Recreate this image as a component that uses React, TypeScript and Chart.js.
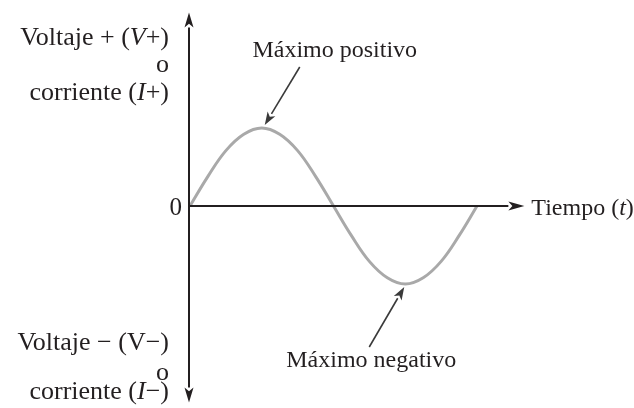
import React, { useEffect, useRef } from "react";
import { Chart, registerables } from "chart.js";

Chart.register(...registerables);

// One period of the alternating signal, time in periods, amplitude normalised to the peak
const timeValues = [0, 0.0625, 0.125, 0.1875, 0.25, 0.3125, 0.375, 0.4375, 0.5, 0.5625, 0.625, 0.6875, 0.75, 0.8125, 0.875, 0.9375, 1];
const signalValues = [0, 0.38, 0.71, 0.92, 1, 0.92, 0.71, 0.38, 0, -0.38, -0.71, -0.92, -1, -0.92, -0.71, -0.38, 0];

// Text drawn around the axes
const upperAxisLabel = [
  [["Voltaje + (", false], ["V", true], ["+)", false]],
  [["o", false]],
  [["corriente (", false], ["I", true], ["+)", false]],
] as [string, boolean][][];
const lowerAxisLabel = [
  [["Voltaje \u2212 (V\u2212)", false]],
  [["o", false]],
  [["corriente (", false], ["I", true], ["\u2212)", false]],
] as [string, boolean][][];
const timeLabel = [["Tiempo (", false], ["t", true], [")", false]] as [string, boolean][];
const zeroLabel = "0";
const peakLabel = "Máximo positivo";
const troughLabel = "Máximo negativo";

const FONT_FAMILY = '"Liberation Serif", "Times New Roman", serif';
const TEXT_COLOR = "#231f20";

function fontFor(italic: boolean, size: number) {
  return `${italic ? "italic " : ""}${size}px ${FONT_FAMILY}`;
}

function drawRuns(ctx: CanvasRenderingContext2D, runs: [string, boolean][], x: number, y: number, align: "left" | "right" | "center", size = 24) {
  const widths = runs.map(([t, it]) => {
    ctx.font = fontFor(it, size);
    return ctx.measureText(t).width;
  });
  const total = widths.reduce((a, b) => a + b, 0);
  let cx = align === "left" ? x : align === "right" ? x - total : x - total / 2;
  ctx.textAlign = "left";
  ctx.textBaseline = "alphabetic";
  ctx.fillStyle = TEXT_COLOR;
  runs.forEach(([t, it], i) => {
    ctx.font = fontFor(it, size);
    ctx.fillText(t, cx, y);
    cx += widths[i];
  });
}

function arrow(ctx: CanvasRenderingContext2D, x1: number, y1: number, x2: number, y2: number, color: string, width: number, headLen: number, headHalf: number) {
  const ang = Math.atan2(y2 - y1, x2 - x1);
  const bx = x2 - headLen * Math.cos(ang);
  const by = y2 - headLen * Math.sin(ang);
  ctx.strokeStyle = color;
  ctx.lineWidth = width;
  ctx.beginPath();
  ctx.moveTo(x1, y1);
  ctx.lineTo(bx, by);
  ctx.stroke();
  ctx.fillStyle = color;
  ctx.beginPath();
  ctx.moveTo(x2, y2);
  ctx.lineTo(bx + headHalf * Math.sin(ang), by - headHalf * Math.cos(ang));
  ctx.lineTo(x2 - headLen * 0.75 * Math.cos(ang), y2 - headLen * 0.75 * Math.sin(ang));
  ctx.lineTo(bx - headHalf * Math.sin(ang), by + headHalf * Math.cos(ang));
  ctx.closePath();
  ctx.fill();
}

// Draws the arrowed axes, their labels and the peak call-outs
const diagramPlugin = {
  id: "sineDiagram",
  afterDatasetsDraw(chart: any) {
    const ctx: CanvasRenderingContext2D = chart.ctx;
    const xs = chart.scales.x;
    const ys = chart.scales.y;
    const x0 = xs.getPixelForValue(0) - 1;
    const y0 = ys.getPixelForValue(0);
    const yTop = ys.getPixelForValue(2.48);
    const yBottom = ys.getPixelForValue(-2.52);
    const xEnd = xs.getPixelForValue(1.165);
    ctx.save();

    // vertical axis, arrows at both ends
    arrow(ctx, x0, y0, x0, yTop, "#231f20", 2, 15, 4.5);
    arrow(ctx, x0, y0, x0, yBottom, "#231f20", 2, 15, 4.5);
    // time axis
    arrow(ctx, x0, y0, xEnd, y0, "#231f20", 2, 16, 4.5);

    // axis labels
    const labelRight = x0 - 20;
    const sideSize = 26;
    const upperBase = [45, 72, 100];
    upperAxisLabel.forEach((runs, i) => drawRuns(ctx, runs, labelRight, upperBase[i], "right", sideSize));
    const lowerBase = [350, 380, 399];
    lowerAxisLabel.forEach((runs, i) => drawRuns(ctx, runs, labelRight, lowerBase[i], "right", sideSize));
    drawRuns(ctx, [[zeroLabel, false]], x0 - 7, y0 + 9, "right", 25);
    drawRuns(ctx, timeLabel, xEnd + 7, y0 + 9, "left");

    // peak call-outs
    const px = xs.getPixelForValue(0.25);
    const py = ys.getPixelForValue(1);
    drawRuns(ctx, [[peakLabel, false]], px + 73, 57, "center");
    arrow(ctx, px + 38, py - 61, px + 3, py - 3, "#3a3a3a", 1.6, 13, 4.5);

    const tx = xs.getPixelForValue(0.75);
    const ty = ys.getPixelForValue(-1);
    drawRuns(ctx, [[troughLabel, false]], tx - 34, 367, "center");
    arrow(ctx, tx - 36, ty + 63, tx - 1, ty + 3, "#3a3a3a", 1.6, 13, 4.5);

    ctx.restore();
  },
};

export default function App() {
  const canvasRef = useRef<HTMLCanvasElement | null>(null);

  useEffect(() => {
    const canvas = canvasRef.current;
    if (!canvas) return;
    const chart = new Chart(canvas, {
      type: "line",
      data: {
        datasets: [
          {
            data: timeValues.map((t, i) => ({ x: t, y: signalValues[i] })),
            borderColor: "#a9a9a9",
            borderWidth: 3,
            pointRadius: 0,
            tension: 0.4,
            fill: false,
            clip: false as any,
          },
        ],
      },
      options: {
        responsive: false,
        animation: false,
        events: [],
        layout: { padding: { left: 190, right: 157, top: 128, bottom: 124 } },
        plugins: { legend: { display: false }, tooltip: { enabled: false } },
        scales: {
          x: { type: "linear", min: 0, max: 1, display: false },
          y: { type: "linear", min: -1, max: 1, display: false },
        },
      },
      plugins: [diagramPlugin],
    });
    return () => chart.destroy();
  }, []);

  return (
    <div style={{ position: "absolute", left: 0, top: 0, width: 634, height: 408, background: "#fff" }}>
      <canvas ref={canvasRef} width={634} height={408} style={{ width: 634, height: 408, display: "block" }} />
    </div>
  );
}
